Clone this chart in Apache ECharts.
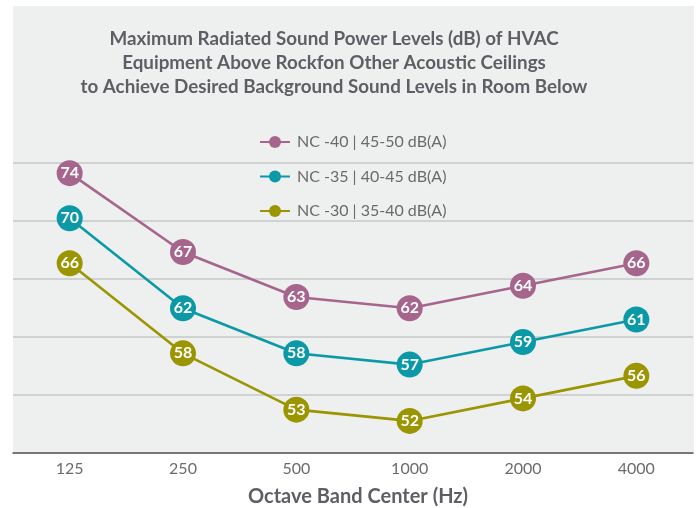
<!DOCTYPE html>
<html>
<head>
<meta charset="utf-8">
<script src="https://cdn.jsdelivr.net/npm/echarts@6/dist/echarts.min.js"></script>
<style>
  html, body { margin: 0; padding: 0; background: #fff; }
  #chart { width: 698px; height: 508px; }
</style>
</head>
<body>
<div id="chart"></div>
<script>
const categories = ['125', '250', '500', '1000', '2000', '4000']
const seriesNames = ['NC -40 | 45-50 dB(A)', 'NC -35 | 40-45 dB(A)', 'NC -30 | 35-40 dB(A)']
const nc40 = [74, 67, 63, 62, 64, 66]
const nc35 = [70, 62, 58, 57, 59, 61]
const nc30 = [66, 58, 53, 52, 54, 56]
const colors = ['#a6658c', '#0b99a8', '#9a9500']

const FONT = 'Lato, "Open Sans", sans-serif'

function lineSeries(name, data, color) {
  return {
    name: name,
    type: 'line',
    data: data,
    yAxisIndex: 0,
    clip: false,
    symbol: 'circle',
    symbolSize: 26,
    itemStyle: { color: color },
    lineStyle: { color: color, width: 2.6 },
    label: {
      show: true,
      position: 'inside',
      color: '#fff',
      fontFamily: FONT,
      fontWeight: 'bold',
      fontSize: 16
    },
    emphasis: { disabled: true }
  }
}

const chart = echarts.init(document.getElementById('chart'))
chart.setOption({
  animation: false,
  backgroundColor: '#fff',
  graphic: [{
    type: 'rect',
    z: -10,
    shape: { x: 13, y: 6, width: 681, height: 447 },
    style: { fill: '#eef0ef' }
  }],
  title: {
    text: 'Maximum Radiated Sound Power Levels (dB) of HVAC\nEquipment Above Rockfon Other Acoustic Ceilings\nto Achieve Desired Background Sound Levels in Room Below',
    left: 334,
    textAlign: 'center',
    top: 27,
    padding: 0,
    textStyle: {
      fontFamily: FONT,
      fontWeight: 'bold',
      fontSize: 18.8,
      lineHeight: 24,
      color: '#5e5f64'
    }
  },
  legend: {
    orient: 'vertical',
    left: 259,
    top: 134,
    padding: 0,
    itemGap: 18.5,
    itemWidth: 30,
    itemHeight: 15,
    data: seriesNames,
    textStyle: { fontFamily: FONT, fontSize: 16, color: '#6a6a6a', padding: [0, 0, 0, 2] }
  },
  grid: { left: 13, right: 5, top: 163, bottom: 55, outerBoundsMode: 'none' },
  xAxis: {
    type: 'category',
    data: categories,
    boundaryGap: true,
    axisLine: { lineStyle: { color: '#5a5a5a', width: 1.5 } },
    axisTick: { show: false },
    axisLabel: { fontFamily: FONT, fontSize: 16, color: '#6b6b6b', margin: 8 },
    name: 'Octave Band Center (Hz)',
    nameLocation: 'middle',
    nameGap: 34,
    nameTextStyle: {
      fontFamily: FONT,
      fontWeight: 'bold',
      fontSize: 20,
      color: '#5e5f64',
      padding: [0, 0, 0, 10]
    }
  },
  yAxis: [
    {
      type: 'value',
      min: 49.15,
      max: 74.9,
      axisLine: { show: false },
      axisTick: { show: false },
      axisLabel: { show: false },
      splitLine: { show: false }
    },
    {
      // only used for the horizontal guide lines
      type: 'value',
      min: 0,
      max: 5,
      interval: 1,
      position: 'left',
      axisLine: { show: false },
      axisTick: { show: false },
      axisLabel: { show: false },
      splitLine: { show: true, lineStyle: { color: '#d0d2d1', width: 2 } }
    }
  ],
  series: [
    lineSeries(seriesNames[0], nc40, colors[0]),
    lineSeries(seriesNames[1], nc35, colors[1]),
    lineSeries(seriesNames[2], nc30, colors[2])
  ]
})
</script>
</body>
</html>
